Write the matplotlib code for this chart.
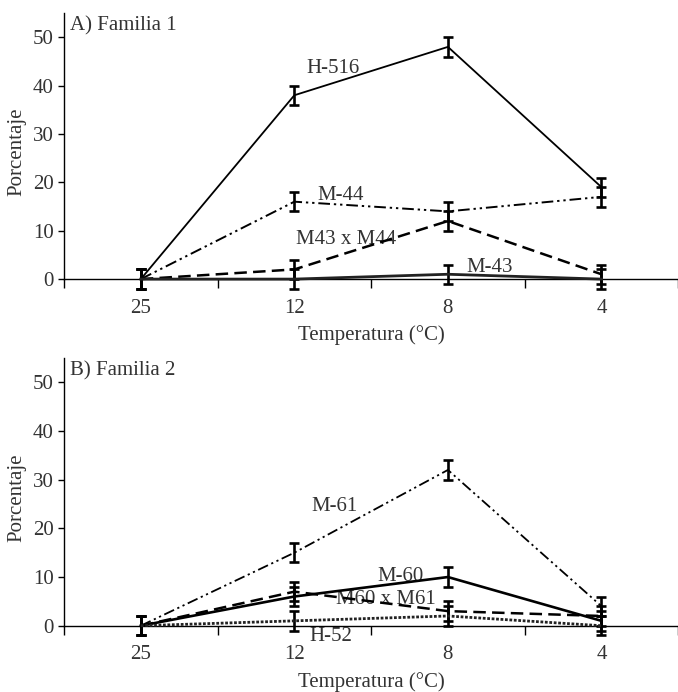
import matplotlib
matplotlib.use('Agg')
from matplotlib import pyplot as plt

plt.rcParams['font.family'] = ['Liberation Serif', 'DejaVu Serif']

temps = ['25', '12', '8', '4']

# Familia 1
h516 = [0, 38, 48, 19]
m44 = [0, 16, 14, 17]
m43xm44 = [0, 2, 12, 1]
m43 = [0, 0, 1, 0]

# Familia 2
m61 = [0, 15, 32, 4]
m60 = [0, 6, 10, 1]
m60xm61 = [0, 7, 3, 2]
h52 = [0, 1, 2, 0]

err = [2, 2, 2, 2]

txt = '#333333'
fs = 15
dashdotdot = (0, (6, 2, 1.2, 2, 1.2, 2))

fig = plt.figure(figsize=(6.78, 6.92), dpi=100)
axA = fig.add_axes([0.0944, 0.5806, 0.906, 0.4006])
axB = fig.add_axes([0.0944, 0.0796, 0.906, 0.4031])


def draw(ax, series, labels, title):
    x = list(range(len(temps)))
    for vals, ls, lw, col in series:
        ax.errorbar(x, vals, yerr=err, color=col, ls=ls, lw=lw,
                    ecolor='black', elinewidth=1.9, capsize=3.3, capthick=1.9,
                    clip_on=False, zorder=3)
    for (s, tx, ty) in labels:
        ax.text(tx, ty, s, fontsize=fs, color=txt, va='center', ha='left', zorder=2)
    ax.text(0.01, 0.99, title, transform=ax.transAxes, fontsize=fs, color=txt,
            va='top', ha='left')
    ax.set_xlim(-0.5, 3.5)
    ax.set_ylim(-2.3, 55)
    ax.spines['top'].set_visible(False)
    ax.spines['right'].set_visible(False)
    ax.spines['bottom'].set_position(('data', 0))
    ax.spines['left'].set_bounds(0, 55)
    ax.spines['left'].set_linewidth(1.0)
    ax.spines['bottom'].set_linewidth(1.0)
    ax.set_yticks([0, 10, 20, 30, 40, 50])
    ax.tick_params(axis='y', direction='out', length=4.5, width=1.0, pad=3,
                   labelsize=fs, labelcolor=txt)
    ax.set_xticks([-0.5, 0.5, 1.5, 2.5, 3.5])
    ax.set_xticklabels([])
    ax.set_xticks(x, minor=True)
    ax.set_xticklabels(temps, minor=True)
    ax.tick_params(axis='x', which='major', direction='out', length=6.3, width=1.0)
    ax.tick_params(axis='x', which='minor', length=0, pad=14,
                   labelsize=fs, labelcolor=txt)
    ax.set_ylabel('Porcentaje', fontsize=fs, color=txt)
    ax.set_xlabel('Temperatura (°C)', fontsize=fs, color=txt)


draw(axA,
     [(h516, '-', 1.3, 'black'),
      (m44, dashdotdot, 1.4, 'black'),
      (m43xm44, (0, (5, 2.5)), 1.8, 'black'),
      (m43, '-', 2.0, '#222222')],
     [('H-516', 1.08, 43.5), ('M-44', 1.15, 17.2),
      ('M43 x M44', 1.01, 8.2), ('M-43', 2.12, 2.3)],
     'A) Familia 1')

draw(axB,
     [(m61, dashdotdot, 1.3, 'black'),
      (m60, '-', 1.9, 'black'),
      (m60xm61, (0, (5, 2.5)), 1.8, 'black'),
      (h52, (0, (1, 0.6)), 2.0, '#222222')],
     [('M-61', 1.11, 24.5), ('M-60', 1.54, 10.2),
      ('M60 x M61', 1.27, 5.3), ('H-52', 1.10, -2.3)],
     'B) Familia 2')

for ax in (axA, axB):
    ax.yaxis.set_label_coords(-0.062, 0.5)
    ax.xaxis.set_label_coords(0.5, -0.125)

plt.savefig('out.png', dpi=100)
